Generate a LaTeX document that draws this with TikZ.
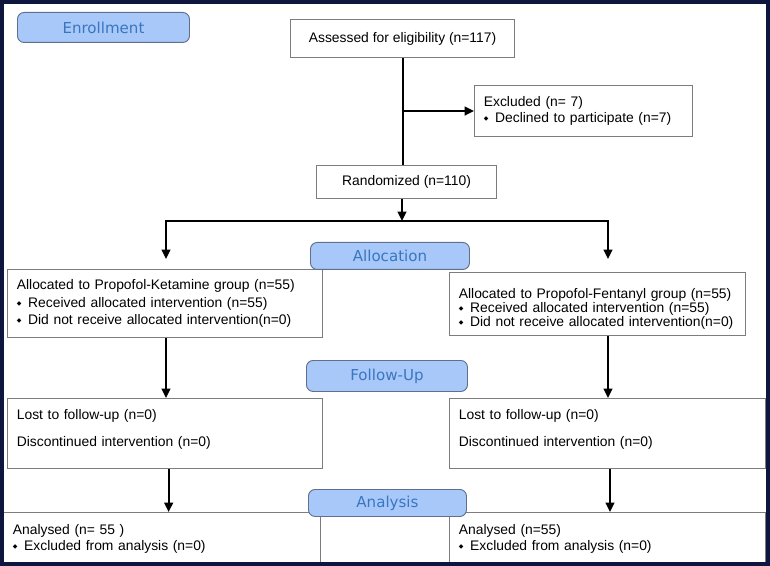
\documentclass[tikz,border=0pt]{standalone}
\usepackage{fontspec}
\setmainfont{Liberation Sans}
\newfontfamily\stagefont{DejaVu Sans}
\usetikzlibrary{arrows.meta, positioning}
\definecolor{frameblue}{RGB}{14,22,64}
\definecolor{stagefill}{RGB}{168,200,250}
\definecolor{stagetext}{RGB}{58,118,190}
\definecolor{stageline}{RGB}{96,112,140}
\definecolor{boxline}{RGB}{125,125,125}
\newcommand{\dbul}{{\stagefont\fontsize{4.5}{5}\selectfont\raisebox{1.3pt}{◆}}\hspace{5pt}}

\begin{document}
\begin{tikzpicture}[>={Triangle[length=7pt,width=6.5pt]}, x=.75pt, y=-.75pt,
  font=\fontsize{10.4}{13}\selectfont,
  box/.style={draw=boxline, line width=.8pt, fill=white, anchor=north west, inner xsep=7pt, inner ysep=1pt},
  txtbox/.style={box, align=left, text width=#1},
  stage/.style={draw=stageline, line width=.7pt, fill=stagefill, rounded corners=5pt, anchor=north west,
    text=stagetext, font=\stagefont\fontsize{11.3}{13}\selectfont, inner sep=0pt},
  flow/.style={->, line width=1.5pt}]
\useasboundingbox (0,0) rectangle (770,566);
\fill[white] (0,0) rectangle (770,566);
%
% enrollment
\node[box, minimum width=168pt, minimum height=28.5pt] (assessed) at (290,19) {Assessed for eligibility (n=117)};
\node[txtbox=149.5pt, minimum width=163.5pt, minimum height=38.25pt] (excluded) at (474,85)
  {Excluded (n= 7)\\[-1pt]\dbul Declined to participate (n=7)};
\node[box, minimum width=135pt, minimum height=24.75pt] (randomized) at (316,165) {Randomized (n=110)};
%
% allocation
\node[txtbox=222.25pt, minimum width=236.25pt, minimum height=51pt] (allocK) at (7,269)
  {Allocated to Propofol-Ketamine group (n=55)\\\dbul Received allocated intervention (n=55)\\\dbul Did not receive allocated intervention(n=0)};
\node[txtbox=208pt, minimum width=222pt, minimum height=47.25pt] (allocF) at (449,272)
  {\rule{0pt}{15pt}Allocated to Propofol-Fentanyl group (n=55)\\[-2.5pt]\dbul Received allocated intervention (n=55)\\[-2.5pt]\dbul Did not receive allocated intervention(n=0)};
%
% follow-up
\node[txtbox=222.25pt, minimum width=236.25pt, minimum height=52.5pt] (fuK) at (7,398)
  {Lost to follow-up (n=0)\\[7.25pt]Discontinued intervention (n=0)\rule[-8pt]{0pt}{8pt}};
\node[txtbox=223pt, minimum width=237pt, minimum height=52.5pt] (fuF) at (449,398)
  {Lost to follow-up (n=0)\\[7.25pt]Discontinued intervention (n=0)\rule[-8pt]{0pt}{8pt}};
%
% analysis
\node[txtbox=223.75pt, minimum width=237.75pt, minimum height=39pt] (anK) at (3,512)
  {Analysed (n= 55 )\\[-1pt]\dbul Excluded from analysis (n=0)};
\node[txtbox=223pt, minimum width=237pt, minimum height=39pt] (anF) at (449,512)
  {Analysed (n=55)\\[-1pt]\dbul Excluded from analysis (n=0)};
%
% stage labels
\node[stage, minimum width=129pt, minimum height=22.5pt] (enrollment) at (17,12) {Enrollment};
\node[stage, minimum width=119.25pt, minimum height=20.25pt] (allocation) at (310,242) {Allocation};
\node[stage, minimum width=120.75pt, minimum height=23.25pt] (followup) at (306,360) {Follow-Up};
\node[stage, minimum width=118.5pt, minimum height=20.25pt] (analysis) at (308,489) {Analysis};
%
% connectors
\coordinate (splitL) at (166,221);
\coordinate (splitM) at (402,221);
\coordinate (splitR) at (608,221);
\draw[line width=1.5pt] (assessed.south) -- (assessed.south |- randomized.north);
\draw[flow] (assessed.south |- excluded.west) -- (excluded.west);
\draw[flow] (randomized.south -| splitM) -- (splitM);
\draw[flow, shorten >=7.5pt] (splitM) -| (splitL |- allocK.north);
\draw[flow, shorten >=7.5pt] (splitM) -| (splitR |- allocK.north);
\draw[flow] (allocK.south -| splitL) -- (fuK.north -| splitL);
\draw[flow] (allocF.south -| splitR) -- (fuF.north -| splitR);
\draw[flow] ([xshift=2pt]fuK.south -| splitL) -- ([xshift=2pt]anK.north -| splitL);
\draw[flow] ([xshift=1.5pt]fuF.south -| splitR) -- ([xshift=1.5pt]anF.north -| splitR);
%
\draw[line width=3pt, frameblue] (2,2) rectangle (768,564);
\end{tikzpicture}
\end{document}
